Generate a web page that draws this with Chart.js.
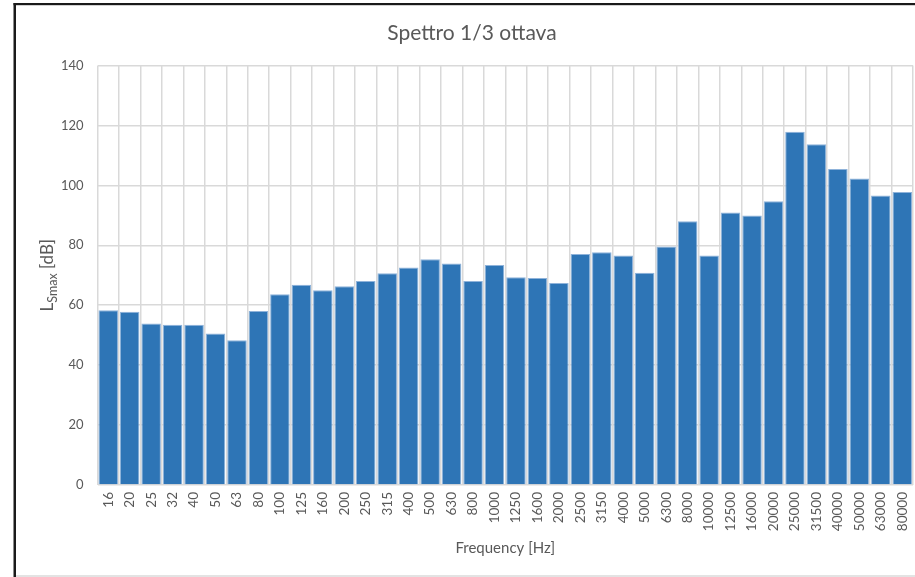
<!DOCTYPE html>
<html>
<head>
<meta charset="utf-8">
<script src="https://cdn.jsdelivr.net/npm/chart.js@4/dist/chart.umd.min.js"></script>
<style>
  html, body { margin: 0; padding: 0; background: #ffffff; }
  #wrap { position: relative; width: 915px; height: 577px; }
</style>
</head>
<body>
<div id="wrap"><canvas id="chart" width="915" height="577"></canvas></div>
<script>
// 1/3-octave band centre frequencies [Hz]
const frequencies = ['16','20','25','32','40','50','63','80','100','125','160','200','250','315','400','500','630','800','1000','1250','1600','2000','2500','3150','4000','5000','6300','8000','10000','12500','16000','20000','25000','31500','40000','50000','63000','80000'];

// LSmax per band [dB]
const lsmax = [58.3,57.8,53.9,53.5,53.5,50.6,48.3,58.1,63.7,66.8,65.0,66.3,68.1,70.7,72.6,75.3,73.9,68.1,73.4,69.3,69.1,67.4,77.1,77.7,76.6,70.8,79.6,88.0,76.6,90.9,89.9,94.7,117.9,113.7,105.5,102.3,96.6,97.8];

// y axis range
const yMin = 0;
const yMax = 140;
const yStep = 20;

const FONT = 'Lato, "Open Sans", sans-serif';
const TEXT = '#595959';
const GRID = '#d9d9d9';

// white page with the dark frame on the left and top
const framePlugin = {
  id: 'frame',
  beforeDraw(chart) {
    const ctx = chart.ctx;
    ctx.save();
    ctx.fillStyle = '#ffffff';
    ctx.fillRect(0, 0, chart.width, chart.height);
    ctx.fillStyle = '#e3e3e3';
    ctx.fillRect(14, 575, chart.width - 14, 2);
    ctx.fillStyle = '#1a1a1a';
    ctx.fillRect(13.5, 3, 2.5, chart.height - 3);
    ctx.fillRect(13.5, 3, chart.width - 13.5, 2.2);
    ctx.restore();
  }
};

// vertical axis title with subscript: L_Smax [dB]
const yTitlePlugin = {
  id: 'yTitle',
  afterDraw(chart) {
    const ctx = chart.ctx;
    const area = chart.chartArea;
    const cx = 48;
    const cy = (area.top + area.bottom) / 2;
    const main = '17px ' + FONT;
    const sub = '12.5px ' + FONT;
    ctx.save();
    ctx.translate(cx, cy);
    ctx.rotate(-Math.PI / 2);
    ctx.fillStyle = TEXT;
    ctx.textBaseline = 'middle';
    ctx.textAlign = 'left';
    ctx.font = main;
    const wL = ctx.measureText('L').width;
    const wB = ctx.measureText(' [dB]').width;
    ctx.font = sub;
    const wS = ctx.measureText('Smax').width;
    let x = -(wL + wS + wB) / 2;
    ctx.font = main;
    ctx.fillText('L', x, 0);
    x += wL;
    ctx.font = sub;
    ctx.fillText('Smax', x, 4.5);
    x += wS;
    ctx.font = main;
    ctx.fillText(' [dB]', x, 0);
    ctx.restore();
  }
};

new Chart(document.getElementById('chart'), {
  type: 'bar',
  data: {
    labels: frequencies,
    datasets: [{
      label: 'LSmax',
      data: lsmax,
      backgroundColor: '#2e75b6',
      borderColor: '#8fb3da',
      borderWidth: 1,
      barPercentage: 0.91,
      categoryPercentage: 1.0
    }]
  },
  options: {
    responsive: false,
    animation: false,
    devicePixelRatio: 1,
    layout: { padding: { left: 31, right: 2, top: 0, bottom: 0 } },
    plugins: {
      legend: { display: false },
      tooltip: { enabled: false },
      title: {
        display: true,
        text: 'Spettro 1/3 ottava',
        color: TEXT,
        font: { family: FONT, size: 21, weight: 'normal' },
        padding: { top: 20.4, bottom: 19.9 }
      }
    },
    scales: {
      x: {
        grid: { color: GRID, lineWidth: 1.5, offset: true, drawTicks: false },
        border: { display: false },
        ticks: {
          color: TEXT,
          font: { family: FONT, size: 13.5 },
          minRotation: 90,
          maxRotation: 90,
          autoSkip: false,
          padding: 7
        },
        title: {
          display: true,
          text: 'Frequency [Hz]',
          color: TEXT,
          font: { family: FONT, size: 15 },
          padding: { top: 0, bottom: 20 }
        },
        afterFit(scale) {
          scale.height = 92;
          scale.paddingLeft = 0;
          scale.paddingRight = 0;
        }
      },
      y: {
        min: yMin,
        max: yMax,
        grid: { color: GRID, lineWidth: 1.5, drawTicks: false },
        border: { display: false },
        ticks: {
          stepSize: yStep,
          color: TEXT,
          font: { family: FONT, size: 13 },
          padding: 14
        },
        afterFit(scale) {
          scale.width = 66.5;
          scale.paddingTop = 0;
          scale.paddingBottom = 0;
        }
      }
    }
  },
  plugins: [framePlugin, yTitlePlugin]
});
</script>
</body>
</html>
